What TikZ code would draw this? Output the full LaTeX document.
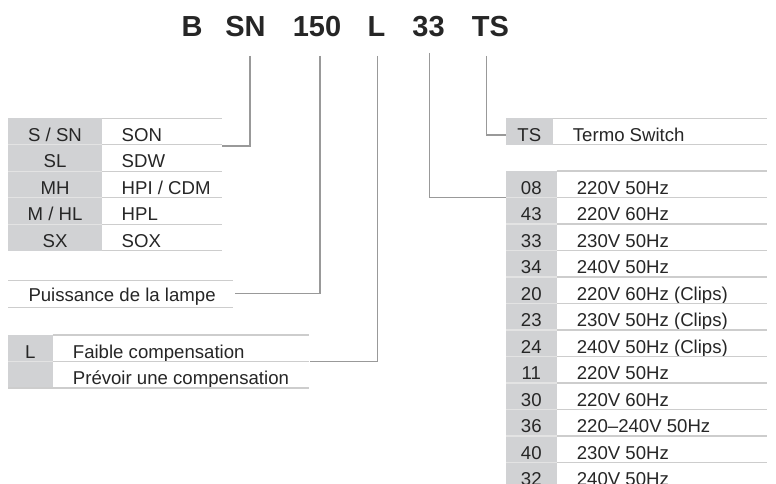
\documentclass[tikz,border=0pt]{standalone}
\usepackage{fontspec}
\setmainfont{Liberation Sans}
\definecolor{cellgray}{HTML}{D1D2D4}
\definecolor{rulegray}{HTML}{CDCDCD}
\definecolor{seplight}{HTML}{E3E3E3}
\definecolor{conngray}{HTML}{999999}
\definecolor{txt}{HTML}{262626}
\tikzset{
  codetxt/.style={anchor=base, inner sep=0pt, text=txt, font=\fontsize{18.6}{21}\selectfont},
  desctxt/.style={anchor=base west, inner sep=0pt, text=txt, font=\fontsize{18.6}{21}\selectfont},
  titletxt/.style={anchor=base, inner sep=0pt, text=txt, font=\fontsize{29}{32}\selectfont\bfseries},
  rowrule/.style={draw=rulegray, line width=1.2pt},
  graysep/.style={draw=seplight, line width=1.2pt},
  conn/.style={draw=conngray, line width=1.3pt},
}
\begin{document}
\begin{tikzpicture}[x=1pt,y=-1pt]
\useasboundingbox (0,0) rectangle (776,484);
\clip (0,0) rectangle (776,484);
\fill[white] (0,0) rectangle (776,484);

% ---------- title ----------
\node[titletxt] (tB)   at (192,36.7)   {B};
\node[titletxt] (tSN)  at (245.5,36.7) {SN};
\node[titletxt] (t150) at (317,36.7)   {150};
\node[titletxt] (tL)   at (376.5,36.7) {L};
\node[titletxt] (t33)  at (428.5,36.7) {33};
\node[titletxt] (tTS)  at (490.5,36.7) {TS};

% ---------- left table (lamp type) ----------
\foreach \c/\d [count=\i from 0] in {{S / SN}/SON, SL/SDW, MH/{HPI / CDM}, {M / HL}/HPL, SX/SOX}{
  \fill[cellgray] (8,{118.3+26.5*\i}) rectangle (102,{118.3+26.5*(\i+1)});
  \node[codetxt] (lc\i) at (55,{118.3+26.5*(\i+1)-3.4}) {\c};
  \node[desctxt] (ld\i) at (121.5,{118.3+26.5*(\i+1)-3.4}) {\d};
}
\foreach \i in {0,...,5}{
  \draw[rowrule] (102,{118.3+26.5*\i}) -- (222,{118.3+26.5*\i});
}
\foreach \i in {1,...,4}{
  \draw[graysep] (8,{118.3+26.5*\i}) -- (102,{118.3+26.5*\i});
}

% ---------- Puissance ----------
\draw[rowrule] (8,280.7) -- (232.7,280.7);
\draw[rowrule] (8,307.2) -- (232.7,307.2);
\node[desctxt] (puis) at (28.3,301.5) {Puissance de la lampe};

% ---------- L table ----------
\fill[cellgray] (8,335) rectangle (52.7,388);
\node[codetxt] (lL) at (30.3,358.1) {L};
\node[desctxt] (lLd) at (72.7,358.1) {Faible compensation};
\node[desctxt] (lPd) at (72.7,384.6) {Prévoir une compensation};
\draw[rowrule] (52.7,335) -- (309,335);
\draw[rowrule] (8,361.5) -- (309,361.5);
\draw[graysep] (8,361.5) -- (52.7,361.5);
\draw[rowrule] (8,388) -- (309,388);

% ---------- TS table ----------
\fill[cellgray] (506,118.3) rectangle (552.7,144.8);
\node[codetxt] (rTS) at (529.3,141.4) {TS};
\node[desctxt] (rTSd) at (572.7,141.4) {Termo Switch};
\draw[rowrule] (552.7,118.3) -- (766.7,118.3);
\draw[rowrule] (552.7,144.8) -- (766.7,144.8);

% ---------- voltage table ----------
\foreach \c/\d [count=\i from 0] in {08/220V 50Hz, 43/220V 60Hz, 33/230V 50Hz, 34/240V 50Hz,
  20/220V 60Hz (Clips), 23/230V 50Hz (Clips), 24/240V 50Hz (Clips), 11/220V 50Hz,
  30/220V 60Hz, 36/220\textendash 240V 50Hz, 40/230V 50Hz, 32/240V 50Hz}{
  \fill[cellgray] (506,{171+26.5*\i}) rectangle (556.7,{171+26.5*(\i+1)});
  \node[codetxt] (vc\i) at (531.3,{171+26.5*(\i+1)-3.4}) {\c};
  \node[desctxt] (vd\i) at (576.7,{171+26.5*(\i+1)-3.4}) {\d};
}
\foreach \i in {0,...,12}{
  \draw[rowrule] (556.7,{171+26.5*\i}) -- (766.7,{171+26.5*\i});
}
\foreach \i in {1,...,12}{
  \draw[graysep] (506,{171+26.5*\i}) -- (556.7,{171+26.5*\i});
}

% ---------- connectors ----------
\coordinate (sSN)  at (250,56);   \coordinate (eSN)  at (222,146);
\coordinate (s150) at (320,56);   \coordinate (e150) at (235,293.3);
\coordinate (sL)   at (377.7,56); \coordinate (eL)   at (310,361.7);
\coordinate (s33)  at (429.3,53); \coordinate (e33)  at (506,197.4);
\coordinate (sTS)  at (486.5,56); \coordinate (eTS)  at (506,135);
\draw[conn] (sSN) |- (eSN);
\draw[conn] (s150) |- (e150);
\draw[conn] (sL) |- (eL);
\draw[conn] (s33) |- (e33);
\draw[conn] (sTS) |- (eTS);
\end{tikzpicture}
\end{document}
